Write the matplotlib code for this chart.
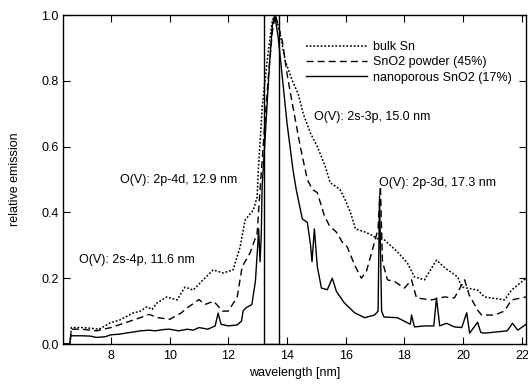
import matplotlib
matplotlib.use("Agg")
import matplotlib.pyplot as plt

plt.rcParams['font.family'] = ['Liberation Sans', 'DejaVu Sans']

# nanoporous SnO2 (17%) - solid
nano_x = [6.37, 6.6, 6.63, 7.0, 7.3, 7.5, 7.8, 8.0, 8.3, 8.5, 8.8, 9.0, 9.3, 9.5,
          9.8, 10.0, 10.3, 10.6, 10.8, 11.0, 11.3, 11.55, 11.65, 11.75, 12.0,
          12.3, 12.45, 12.5, 12.6, 12.8, 12.92, 13.0, 13.03, 13.08, 13.12, 13.15,
          13.2, 13.3, 13.4, 13.5, 13.58, 13.7, 13.85, 14.0, 14.2, 14.31, 14.52,
          14.69, 14.8, 14.85, 14.93, 15.03, 15.17, 15.37, 15.54, 15.68, 15.95,
          16.3, 16.64, 16.98, 17.1, 17.15, 17.22, 17.3, 17.76, 18.2, 18.24,
          18.34, 18.7, 19.0, 19.09, 19.2, 19.43, 19.7, 19.95, 20.12, 20.22,
          20.49, 20.6, 20.73, 21.17, 21.5, 21.68, 21.86, 22.14]
nano_y = [0.0, 0.0, 0.025, 0.025, 0.024, 0.02, 0.022, 0.028, 0.03, 0.033, 0.037, 0.04, 0.042, 0.04,
          0.044, 0.045, 0.04, 0.045, 0.042, 0.05, 0.045, 0.055, 0.094, 0.06, 0.055,
          0.058, 0.07, 0.1, 0.11, 0.12, 0.19, 0.3, 0.35, 0.25, 0.33, 0.48,
          0.55, 0.7, 0.85, 0.97, 1.0, 0.93, 0.8, 0.67, 0.53, 0.47, 0.38,
          0.37, 0.3, 0.25, 0.35, 0.235, 0.17, 0.165, 0.2, 0.16, 0.125,
          0.095, 0.08, 0.088, 0.1, 0.45, 0.1, 0.082, 0.08, 0.06, 0.088,
          0.052, 0.055, 0.055, 0.14, 0.055, 0.063, 0.052, 0.05, 0.095, 0.033,
          0.066, 0.035, 0.033, 0.037, 0.04, 0.063, 0.042, 0.06]

# bulk Sn - dotted (upper curve)
bulk_x = [6.37, 6.6, 6.65, 7.0, 7.3, 7.6, 7.97, 8.3, 8.75, 9.0, 9.23, 9.4, 9.57, 9.9,
          10.25, 10.52, 10.8, 11.14, 11.48, 11.82, 12.16, 12.4, 12.57, 12.85,
          12.98, 13.02, 13.1, 13.15, 13.26, 13.36, 13.5, 13.6, 13.75, 13.94,
          14.18, 14.38, 14.55, 14.8, 15.03, 15.3, 15.47, 15.64, 15.8, 15.97,
          16.16, 16.33, 16.67, 16.9, 17.08, 17.32, 17.76, 18.1, 18.34, 18.68,
          19.09, 19.4, 19.81, 19.95, 20.49, 20.73, 21.41, 21.65, 22.14]
bulk_y = [0.0, 0.0, 0.05, 0.05, 0.048, 0.045, 0.064, 0.073, 0.094, 0.1, 0.113, 0.105, 0.125, 0.143,
          0.134, 0.173, 0.164, 0.195, 0.225, 0.216, 0.225, 0.295, 0.377, 0.407,
          0.447, 0.53, 0.64, 0.72, 0.81, 0.89, 0.985, 1.0, 0.95, 0.86,
          0.8, 0.76, 0.7, 0.64, 0.6, 0.54, 0.49, 0.48, 0.47, 0.44,
          0.4, 0.35, 0.34, 0.33, 0.32, 0.316, 0.28, 0.246, 0.204, 0.195,
          0.255, 0.23, 0.204, 0.173, 0.164, 0.143, 0.134, 0.164, 0.2]

# SnO2 powder (45%) - dashed (middle curve)
powder_x = [6.37, 6.6, 6.65, 7.0, 7.5, 8.0, 8.5, 9.0, 9.3, 9.6, 10.0, 10.4, 10.6,
            11.0, 11.2, 11.5, 11.8, 12.0, 12.3, 12.47, 12.74, 12.98, 13.08, 13.2,
            13.35, 13.5, 13.6, 13.84, 14.0, 14.2, 14.45, 14.69, 14.86, 15.03,
            15.27, 15.44, 15.68, 15.88, 16.05, 16.3, 16.53, 16.7, 16.95, 17.1,
            17.18, 17.25, 17.42, 17.66, 18.0, 18.24, 18.41, 18.92, 19.36, 19.7,
            20.05, 20.2, 20.49, 20.63, 21.07, 21.4, 21.65, 22.14]
powder_y = [0.0, 0.0, 0.045, 0.045, 0.04, 0.05, 0.065, 0.08, 0.09, 0.08, 0.075, 0.095, 0.11,
            0.135, 0.12, 0.13, 0.1, 0.1, 0.143, 0.235, 0.277, 0.337, 0.47, 0.62,
            0.8, 0.95, 1.0, 0.92, 0.82, 0.72, 0.6, 0.5, 0.47, 0.46,
            0.39, 0.36, 0.34, 0.31, 0.295, 0.24, 0.2, 0.22, 0.3, 0.35,
            0.48, 0.25, 0.195, 0.19, 0.17, 0.195, 0.14, 0.134, 0.143, 0.14,
            0.195, 0.15, 0.103, 0.088, 0.088, 0.1, 0.134, 0.143]

# in-band window edges [nm]
band_lo, band_hi = 13.2, 13.74

fig = plt.figure(figsize=(5.28, 3.87), dpi=100)
ax = fig.add_axes([0.1193, 0.1111, 0.8769, 0.8501])

ax.plot(bulk_x, bulk_y, color='black', lw=1.1, linestyle=(0, (1.2, 1.2)), label='bulk Sn')
ax.plot(powder_x, powder_y, color='black', lw=1.0, linestyle=(0, (5, 3)), label='SnO2 powder (45%)')
ax.plot(nano_x, nano_y, color='black', lw=1.0, label='nanoporous SnO2 (17%)')
ax.plot([band_lo, band_lo, band_hi, band_hi], [1.0, 0.0, 0.0, 1.0], color='black', lw=1.0)

ax.set_xlim(6.365, 22.14)
ax.set_ylim(0.0, 1.0)
ax.set_xticks([8, 10, 12, 14, 16, 18, 20, 22])
ax.set_yticks([0.0, 0.2, 0.4, 0.6, 0.8, 1.0])
ax.set_yticklabels(['0.0', '0.2', '0.4', '0.6', '0.8', '1.0'])
ax.tick_params(direction='in', top=True, right=True, length=5, width=0.8,
               labelsize=9, pad=4)
ax.tick_params(axis='y', pad=3)
for s in ax.spines.values():
    s.set_linewidth(1.0)

ax.set_xlabel('wavelength [nm]', fontsize=9)
ax.set_ylabel('relative emission', fontsize=9)
ax.xaxis.set_label_coords(0.5, -0.07)
ax.yaxis.set_label_coords(-0.09, 0.5)

notes = [('O(V): 2p-4d, 12.9 nm', 8.31, 0.498),
         ('O(V): 2s-4p, 11.6 nm', 6.91, 0.255),
         ('O(V): 2s-3p, 15.0 nm', 14.91, 0.69),
         ('O(V): 2p-3d, 17.3 nm', 17.13, 0.489)]
for txt, x, y in notes:
    ax.text(x, y, txt, fontsize=9, ha='left', va='center')

ax.legend(loc='upper left', bbox_to_anchor=(0.524, 0.92), frameon=False,
          fontsize=9, handlelength=4.9, handletextpad=0.5, labelspacing=0.25,
          borderpad=0, borderaxespad=0)

fig.savefig('out.png', dpi=100)
